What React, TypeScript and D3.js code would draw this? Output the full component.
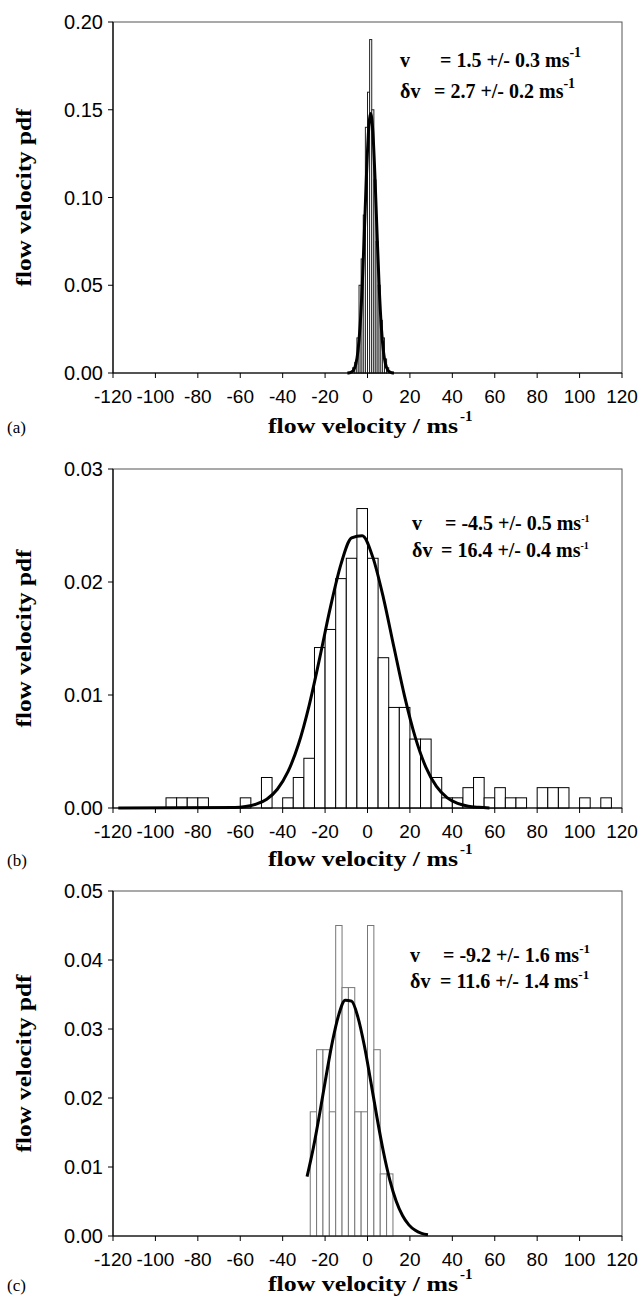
import React from 'react';
import * as d3 from 'd3';

// shared x axis (flow velocity, m/s)
const velocityTicks = [-120, -100, -80, -60, -40, -20, 0, 20, 40, 60, 80, 100, 120];

// panel (a): 1 m/s bins
const binStartA = [-7, -6, -5, -4, -3, -2, -1, 0, 1, 2, 3, 4, 5, 6, 7, 8, 9];
const pdfA = [0.003, 0.006, 0.02, 0.05, 0.065, 0.09, 0.14, 0.16, 0.19, 0.15, 0.11, 0.075, 0.05, 0.03, 0.02, 0.008, 0.003];
const fitXA = [-9.5, -8.5, -7.5, -6.5, -5.5, -4.5, -3.5, -2.5, -1.5, -0.5, 0.5, 1.5, 2.5, 3.5, 4.5, 5.5, 6.5, 7.5, 8.5, 9.5, 10.5, 11.5, 12.5];
const fitPdfA = [0.00004, 0.00016, 0.00057, 0.0018, 0.0051, 0.0125, 0.0266, 0.0493, 0.0797, 0.1124, 0.138, 0.1478, 0.138, 0.1124, 0.0797, 0.0493, 0.0266, 0.0125, 0.0051, 0.0018, 0.00057, 0.00016, 0.00004];
const yTicksA = [0, 0.05, 0.1, 0.15, 0.2];

// panel (b): 5 m/s bins (empty bins left out)
const binStartB = [-95, -90, -85, -80, -60, -50, -40, -35, -30, -25, -20, -15, -10, -5, 0, 5, 10, 15, 20, 25, 30, 35, 40, 45, 50, 55, 60, 65, 70, 80, 85, 90, 100, 110];
const pdfB = [0.0009, 0.0009, 0.0009, 0.0009, 0.0009, 0.0027, 0.0009, 0.0027, 0.0044, 0.0142, 0.0158, 0.0203, 0.0221, 0.0265, 0.0221, 0.0133, 0.0089, 0.0089, 0.0061, 0.0061, 0.0027, 0.0009, 0.0009, 0.0018, 0.0027, 0.0009, 0.0018, 0.0009, 0.0009, 0.0018, 0.0018, 0.0018, 0.0009, 0.0009];
const fitXB = [-117.5, -62.5, -57.5, -52.5, -47.5, -42.5, -37.5, -32.5, -27.5, -22.5, -17.5, -12.5, -7.5, -2.5, 2.5, 7.5, 12.5, 17.5, 22.5, 27.5, 32.5, 37.5, 42.5, 47.5, 52.5, 57.5];
const fitPdfB = [0, 0.00005, 0.00013, 0.00034, 0.00078, 0.00166, 0.00321, 0.00566, 0.00909, 0.01331, 0.01775, 0.02158, 0.0239, 0.0241, 0.0222, 0.0186, 0.0142, 0.00988, 0.00627, 0.00362, 0.00191, 0.00092, 0.0004, 0.00016, 0.00006, 0];
const yTicksB = [0, 0.01, 0.02, 0.03];

// panel (c): 3 m/s bins
const binStartC = [-27, -24, -21, -18, -15, -12, -9, -6, -3, 0, 3, 6, 9];
const pdfC = [0.018, 0.027, 0.027, 0.018, 0.045, 0.036, 0.036, 0.018, 0.018, 0.045, 0.027, 0.009, 0.009];
const fitXC = [-28.5, -25.5, -22.5, -19.5, -16.5, -13.5, -10.5, -7.5, -4.5, -1.5, 1.5, 4.5, 7.5, 10.5, 13.5, 16.5, 19.5, 22.5, 25.5, 28.5];
const fitPdfC = [0.0086, 0.01282, 0.01783, 0.02319, 0.02822, 0.03212, 0.03418, 0.03403, 0.03169, 0.0276, 0.02248, 0.01712, 0.0122, 0.00813, 0.00507, 0.00296, 0.00161, 0.00082, 0.00039, 0.00018];
const yTicksC = [0, 0.01, 0.02, 0.03, 0.04, 0.05];

const fitV = ['= 1.5 +/- 0.3 ms', '= -4.5 +/- 0.5 ms', '= -9.2 +/- 1.6 ms'];
const fitDv = ['= 2.7 +/- 0.2 ms', '= 16.4 +/- 0.4 ms', '= 11.6 +/- 1.4 ms'];
const panelLabels = ['(a)', '(b)', '(c)'];

const LEFT = 113;
const RIGHT = 622;
const TICK_FONT = "'Liberation Sans Narrow', 'Arial Narrow', 'Liberation Sans', sans-serif";
const SERIF = "'Liberation Serif', 'Times New Roman', serif";

function Panel({ idx, top, bottom, yMax, yTicks, binStart, binWidth, pdf, fitX, fitPdf, barStroke, titleDy, note }) {
  const x = d3.scaleLinear().domain([-120, 120]).range([LEFT, RIGHT]);
  const y = d3.scaleLinear().domain([0, yMax]).range([bottom, top]);
  const line = d3.line<number>()
    .x((_, i) => x(fitX[i]))
    .y(d => y(d))
    .curve(d3.curveMonotoneX);
  const titleX = 363;

  return (
    <g>
      {/* frame */}
      <rect x={LEFT} y={top} width={RIGHT - LEFT} height={bottom - top} fill="white" stroke="#555" strokeWidth={1} />

      {/* histogram */}
      {binStart.map((s, i) => (
        <rect key={i} x={x(s)} y={y(pdf[i])} width={x(s + binWidth) - x(s)} height={bottom - y(pdf[i])}
          fill="white" stroke={barStroke} strokeWidth={1} />
      ))}

      {/* fitted gaussian */}
      <path d={line(fitPdf) || ''} fill="none" stroke="black" strokeWidth={3} />

      {/* axes */}
      <line x1={LEFT} x2={LEFT} y1={top} y2={bottom} stroke="black" strokeWidth={1.2} />
      <line x1={LEFT} x2={RIGHT} y1={bottom} y2={bottom} stroke="black" strokeWidth={1.2} />
      {velocityTicks.map(t => (
        <g key={t}>
          <line x1={x(t)} x2={x(t)} y1={bottom} y2={bottom + 5} stroke="black" />
          <text x={x(t)} y={bottom + 23} textAnchor="middle" dominantBaseline="central"
            fontFamily={TICK_FONT} fontSize={19}>{t}</text>
        </g>
      ))}
      {yTicks.map(t => (
        <g key={t}>
          <line x1={LEFT - 5} x2={LEFT} y1={y(t)} y2={y(t)} stroke="black" />
          <text x={103} y={y(t)} textAnchor="end" dominantBaseline="central"
            fontFamily={TICK_FONT} fontSize={20}>{d3.format('.2f')(t)}</text>
        </g>
      ))}

      {/* axis titles */}
      <text x={titleX} y={bottom + titleDy} textAnchor="middle" fontFamily={SERIF} fontWeight="bold" fontSize={21}
        textLength={190} lengthAdjust="spacingAndGlyphs">flow velocity / ms</text>
      <text x={titleX + 97} y={bottom + titleDy - 12} fontFamily={SERIF} fontWeight="bold" fontSize={15}>-1</text>
      <text transform={`translate(24,${(top + bottom) / 2}) rotate(-90)`} textAnchor="middle" dominantBaseline="central"
        fontFamily={SERIF} fontWeight="bold" fontSize={21} textLength={178} lengthAdjust="spacingAndGlyphs">flow velocity pdf</text>
      <text x={7} y={bottom + titleDy} fontFamily={SERIF} fontSize={17}>{panelLabels[idx]}</text>

      {/* fit result */}
      <g fontFamily={SERIF} fontSize={20} fontWeight="bold">
        <text x={note.vx} y={top + note.dy1}>v</text>
        <text x={note.eq1} y={top + note.dy1}>{fitV[idx]}<tspan dy={-note.sup} fontSize={note.supSize}>-1</tspan></text>
        <text x={note.vx} y={top + note.dy2}>δv</text>
        <text x={note.eq2} y={top + note.dy2}>{fitDv[idx]}<tspan dy={-note.sup} fontSize={note.supSize}>-1</tspan></text>
      </g>
    </g>
  );
}

export default function App() {
  return (
    <svg width={639} height={1300} style={{ position: 'absolute', left: 0, top: 0, background: 'white' }}>
      <Panel idx={0} top={22} bottom={373} yMax={0.2} yTicks={yTicksA} binStart={binStartA} binWidth={1}
        pdf={pdfA} fitX={fitXA} fitPdf={fitPdfA} barStroke="#222" titleDy={60}
        note={{ vx: 400, eq1: 440, eq2: 434, dy1: 45, dy2: 76, sup: 10, supSize: 14 }} />
      <Panel idx={1} top={469} bottom={808} yMax={0.03} yTicks={yTicksB} binStart={binStartB} binWidth={5}
        pdf={pdfB} fitX={fitXB} fitPdf={fitPdfB} barStroke="black" titleDy={58}
        note={{ vx: 412, eq1: 445, eq2: 441, dy1: 61, dy2: 88, sup: 8, supSize: 10 }} />
      <Panel idx={2} top={891} bottom={1236} yMax={0.05} yTicks={yTicksC} binStart={binStartC} binWidth={3}
        pdf={pdfC} fitX={fitXC} fitPdf={fitPdfC} barStroke="#777" titleDy={55}
        note={{ vx: 410, eq1: 443, eq2: 440, dy1: 71, dy2: 97, sup: 9, supSize: 13 }} />
    </svg>
  );
}
